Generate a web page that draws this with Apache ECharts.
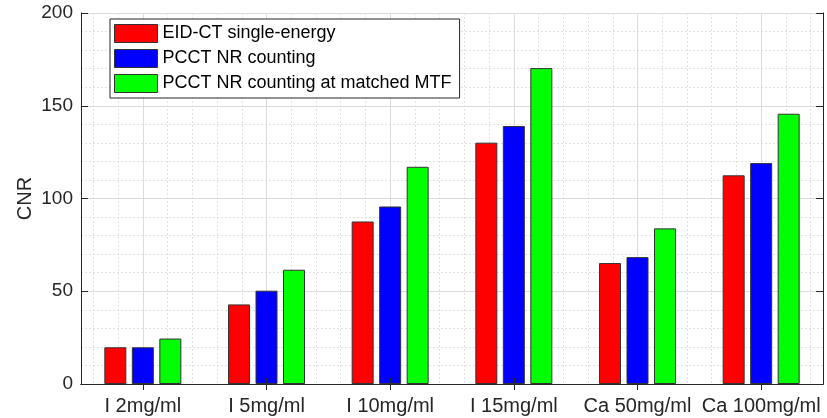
<!DOCTYPE html>
<html>
<head>
<meta charset="utf-8">
<script src="https://cdn.jsdelivr.net/npm/echarts@6/dist/echarts.min.js"></script>
<style>html,body{margin:0;padding:0;background:#fff;}#c{width:827px;height:418px;}</style>
</head>
<body>
<div id="c"></div>
<script>
const categories = ['I 2mg/ml', 'I 5mg/ml', 'I 10mg/ml', 'I 15mg/ml', 'Ca 50mg/ml', 'Ca 100mg/ml'];
const seriesNames = ['EID-CT single-energy', 'PCCT NR counting', 'PCCT NR counting at matched MTF'];
const eidCT = [19.8, 42.9, 87.6, 130.1, 65.2, 112.5];
const pcctNR = [19.8, 50.3, 95.7, 139.1, 68.4, 119.1];
const pcctMatched = [24.5, 61.6, 117.1, 170.3, 83.9, 145.7];
const yTicks = [0, 50, 100, 150, 200];
const colors = ['#ff0000', '#0000ff', '#00ff00'];

const values = [eidCT, pcctNR, pcctMatched];
const fontFam = 'Liberation Sans, Arial, sans-serif';
const axisColor = '#262626';

// helper slots (tenths of a category) used only to place the vertical grid lines
const gridSlots = [];
for (let k = 0; k < categories.length * 10; k++) gridSlots.push(String(k));

const barSeries = seriesNames.map((n, i) => ({
  name: n,
  type: 'bar',
  xAxisIndex: 0,
  yAxisIndex: 0,
  data: values[i],
  barWidth: 22,
  barGap: '25%',
  z: 2,
  itemStyle: {color: colors[i], borderColor: '#333333', borderWidth: 1}
}));

function gridAxis(isMajor) {
  return {
    type: 'category',
    data: gridSlots,
    position: 'bottom',
    boundaryGap: true,
    axisLine: {show: false},
    axisTick: {show: false},
    axisLabel: {show: false},
    splitLine: {
      show: true,
      interval: function (index) {
        return isMajor ? (index % 10 === 5) : (index % 2 === 1 && index % 10 !== 5);
      },
      lineStyle: isMajor ? {color: '#dcdcdc', type: 'solid', width: 1} : {color: '#e2e2e2', type: [2, 2], width: 1}
    },
    z: 0
  };
}

const option = {
  backgroundColor: '#ffffff',
  animation: false,
  grid: {left: 81, right: 4, top: 13, bottom: 34, containLabel: false},
  legend: {
    orient: 'vertical',
    left: 110,
    top: 19,
    itemWidth: 43,
    itemHeight: 18,
    itemGap: 6,
    padding: [5, 8, 5, 4],
    backgroundColor: '#ffffff',
    borderColor: '#262626',
    borderWidth: 1,
    textStyle: {fontFamily: fontFam, fontSize: 18, lineHeight: 18, color: '#000000'},
    itemStyle: {borderColor: '#333333', borderWidth: 1},
    data: seriesNames.map(n => ({name: n, icon: 'rect'}))
  },
  xAxis: [
    {
      type: 'category',
      data: categories,
      position: 'bottom',
      axisLine: {show: true, lineStyle: {color: axisColor, width: 1}},
      axisTick: {show: true, alignWithLabel: true, inside: true, length: 6, lineStyle: {color: axisColor}},
      axisLabel: {interval: 0, fontFamily: fontFam, fontSize: 20, color: axisColor, margin: 12},
      splitLine: {show: false},
      z: 5
    },
    {
      type: 'category',
      data: categories,
      position: 'top',
      axisLine: {show: true, lineStyle: {color: axisColor, width: 1}},
      axisTick: {show: true, alignWithLabel: true, inside: true, length: 6, lineStyle: {color: axisColor}},
      axisLabel: {show: false},
      splitLine: {show: false},
      z: 5
    },
    gridAxis(false),
    gridAxis(true)
  ],
  yAxis: [
    {
      type: 'value',
      min: yTicks[0],
      max: yTicks[yTicks.length - 1],
      interval: 50,
      name: 'CNR',
      nameLocation: 'middle',
      nameGap: 46,
      nameMoveOverlap: false,
      nameTextStyle: {fontFamily: fontFam, fontSize: 20, color: axisColor},
      axisLine: {show: true, lineStyle: {color: axisColor, width: 1}},
      axisTick: {show: true, inside: true, length: 7, lineStyle: {color: axisColor}},
      axisLabel: {fontFamily: fontFam, fontSize: 19, color: axisColor, margin: 8},
      splitLine: {show: true, lineStyle: {color: '#dcdcdc', width: 1}},
      minorTick: {show: false, splitNumber: 5},
      minorSplitLine: {show: true, lineStyle: {color: '#e2e2e2', type: [2, 2], width: 1}},
      z: 0
    },
    {
      type: 'value',
      min: yTicks[0],
      max: yTicks[yTicks.length - 1],
      interval: 50,
      position: 'right',
      axisLine: {show: true, lineStyle: {color: axisColor, width: 1}},
      axisTick: {show: true, inside: true, length: 7, lineStyle: {color: axisColor}},
      axisLabel: {show: false},
      splitLine: {show: false},
      z: 5
    }
  ],
  series: barSeries
};

const chart = echarts.init(document.getElementById('c'), null, {renderer: 'canvas'});
chart.setOption(option);
</script>
</body>
</html>
